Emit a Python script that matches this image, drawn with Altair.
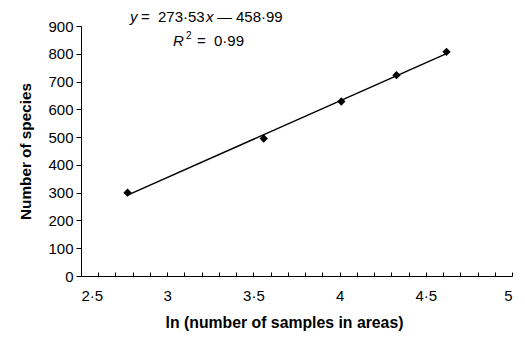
import altair as alt
import pandas as pd

# Data
ln_samples = [2.77, 3.56, 4.01, 4.33, 4.62]
species = [300, 495, 628, 723, 807]

x_tick_values = [2.5, 2.6, 2.7, 2.8, 2.9, 3.0, 3.1, 3.2, 3.3, 3.4, 3.5, 3.6, 3.7, 3.8,
                 3.9, 4.0, 4.1, 4.2, 4.3, 4.4, 4.5, 4.6, 4.7, 4.8, 4.9, 5.0]
y_values = [0, 100, 200, 300, 400, 500, 600, 700, 800, 900]

eq_pieces = ["y", "=", "273·53", "x", "—", "458·99"]
r2_pieces = ["R", "2", "=", "0·99"]

x_title = "ln (number of samples in areas)"
y_title = "Number of species"

W, H = 431, 250
FONT = "Liberation Sans"

df = pd.DataFrame({"x": ln_samples, "y": species})

xscale = alt.Scale(domain=[2.5, 5], nice=False, zero=False)
yscale = alt.Scale(domain=[0, 900], nice=False)

xaxis = alt.Axis(orient="bottom", values=x_tick_values,
                 labelExpr="(abs(round(datum.value*10)) % 5 == 0) ? replace(format(datum.value, ''), '.', '·') : ''",
                 labelOverlap=False, ticks=True, tickSize={"expr": "-4"},
                 tickColor="black", grid=False, domainColor="black",
                 labelFont=FONT, labelFontSize=15, labelColor="black",
                 labelPadding=16, title=x_title, titleFont=FONT,
                 titleFontSize=15.8, titleFontWeight="bold",
                 titleColor="black", titlePadding=12, titleX=203)

yaxis = alt.Axis(values=y_values, title=y_title, titleFont=FONT, titleFontSize=15.3,
                 titleFontWeight="bold", titleColor="black", titlePadding=14,
                 labelFont=FONT, labelFontSize=15, labelColor="black", labelPadding=3,
                 labelOverlap=False, tickSize=5, tickColor="black",
                 domainColor="black", grid=False)

points = alt.Chart(df).mark_point(shape="diamond", filled=True, color="black",
                                  size=70, opacity=1).encode(
    x=alt.X("x:Q", scale=xscale, axis=xaxis),
    y=alt.Y("y:Q", scale=yscale, axis=yaxis),
)

line = alt.Chart(df).transform_regression("x", "y").mark_line(
    color="black", strokeWidth=1.5).encode(
    x=alt.X("x:Q", scale=xscale, axis=xaxis),
    y=alt.Y("y:Q", scale=yscale, axis=yaxis),
)

def piece(txt, x, y, italic=False, size=15):
    return alt.Chart(pd.DataFrame({"t": [txt]})).mark_text(
        align="left", baseline="alphabetic", font=FONT, fontSize=size,
        fontStyle="italic" if italic else "normal", color="black").encode(
        text="t:N", x=alt.value(x), y=alt.value(y))

eq_x = [49, 60, 77, 125, 136, 155]
eq_it = [True, False, False, True, False, False]
eq_layers = [piece(t, xx, -4, italic=it) for t, xx, it in zip(eq_pieces, eq_x, eq_it)]

r2_layers = [
    piece(r2_pieces[0], 92, 20, italic=True),
    piece(r2_pieces[1], 105, 13, size=10),
    piece(r2_pieces[2], 116, 20),
    piece(r2_pieces[3], 133, 20),
]

chart = alt.layer(points, line, *eq_layers, *r2_layers).properties(
    width=W, height=H, background="white",
    padding={"left": 81, "top": 26, "right": 13, "bottom": 61},
    autosize=alt.AutoSizeParams(type="none"),
).configure_view(stroke=None)

chart.save("out.html", embed_options={"renderer": "svg", "actions": False})
